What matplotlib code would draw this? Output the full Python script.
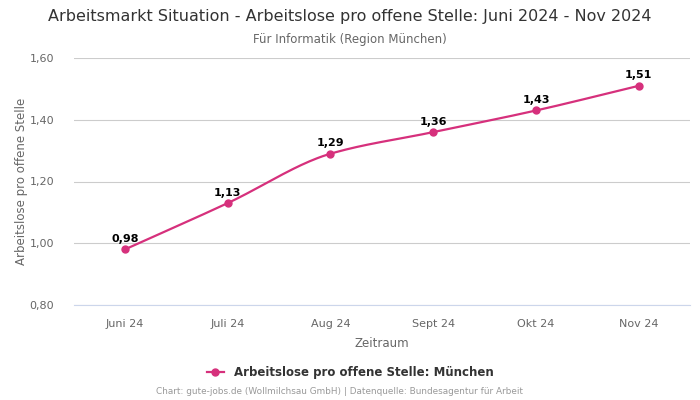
import matplotlib
matplotlib.use("Agg")
import matplotlib.pyplot as plt
from matplotlib.lines import Line2D
import numpy as np

monate = ["Juni 24", "Juli 24", "Aug 24", "Sept 24", "Okt 24", "Nov 24"]
werte = [0.98, 1.13, 1.29, 1.36, 1.43, 1.51]
y_ticks = [0.80, 1.00, 1.20, 1.40, 1.60]

farbe = "#d6307c"


def glatte_kurve(x, y, schritte=40):
    # monotone kubische Hermite-Interpolation nur fuer die Linienform
    x = np.asarray(x, float)
    y = np.asarray(y, float)
    h = np.diff(x)
    d = np.diff(y) / h
    m = np.zeros_like(y)
    m[0], m[-1] = d[0], d[-1]
    for i in range(1, len(y) - 1):
        if d[i - 1] * d[i] > 0:
            m[i] = 2 / (1 / d[i - 1] + 1 / d[i])
    xs, ys = [], []
    for i in range(len(h)):
        t = np.linspace(0, 1, schritte)
        h00 = 2 * t**3 - 3 * t**2 + 1
        h10 = t**3 - 2 * t**2 + t
        h01 = -2 * t**3 + 3 * t**2
        h11 = t**3 - t**2
        xs.append(x[i] + t * h[i])
        ys.append(h00 * y[i] + h10 * h[i] * m[i] + h01 * y[i + 1] + h11 * h[i] * m[i + 1])
    return np.concatenate(xs), np.concatenate(ys)


fig = plt.figure(figsize=(7, 4), dpi=100)
ax = fig.add_axes([0.105, 0.2375, 0.881, 0.6175])

xpos = np.arange(len(monate))
kx, ky = glatte_kurve(xpos, werte)
ax.plot(kx, ky, color=farbe, linewidth=1.6, zorder=3)
ax.plot(xpos, werte, "o", color=farbe, markersize=5, zorder=4)

for x, w in zip(xpos, werte):
    ax.annotate(f"{w:.2f}".replace(".", ","), (x, w), xytext=(0, 4),
                textcoords="offset points", ha="center", va="bottom",
                fontsize=8, fontweight="bold", color="black")

ax.set_xlim(-0.5, len(monate) - 0.5)
ax.set_ylim(0.80, 1.60)
ax.set_yticks(y_ticks)
ax.set_yticklabels([f"{v:.2f}".replace(".", ",") for v in y_ticks])
ax.set_xticks(xpos)
ax.set_xticklabels(monate)
ax.tick_params(axis="both", length=0, labelsize=8, colors="#666666")
ax.tick_params(axis="x", pad=10)
ax.tick_params(axis="y", pad=14)
ax.grid(axis="y", color="#cccccc", linewidth=0.8)
for s in ax.spines.values():
    s.set_visible(False)
ax.spines["bottom"].set_visible(True)
ax.spines["bottom"].set_color("#ccd6eb")
ax.set_axisbelow(True)

ax.set_xlabel("Zeitraum", fontsize=8.5, color="#666666", labelpad=6)
ax.set_ylabel("Arbeitslose pro offene Stelle", fontsize=8.5, color="#666666", labelpad=1)

fig.text(0.5, 0.958, "Arbeitsmarkt Situation - Arbeitslose pro offene Stelle: Juni 2024 - Nov 2024",
         ha="center", va="center", fontsize=11.5, color="#333333")
fig.text(0.5, 0.902, "Für Informatik (Region München)", ha="center", va="center",
         fontsize=8.5, color="#666666")

handle = Line2D([0], [0], color=farbe, marker="o", markersize=5, linewidth=1.6)
fig.legend([handle], ["Arbeitslose pro offene Stelle: München"], loc="center",
           bbox_to_anchor=(0.5, 0.068), frameon=False, handlelength=1.5,
           prop={"weight": "bold", "size": 8.5}, labelcolor="#333333")

fig.text(0.485, 0.02, "Chart: gute-jobs.de (Wollmilchsau GmbH) | Datenquelle: Bundesagentur für Arbeit",
         ha="center", va="center", fontsize=6.4, color="#999999")

fig.savefig("out.png", dpi=100)
